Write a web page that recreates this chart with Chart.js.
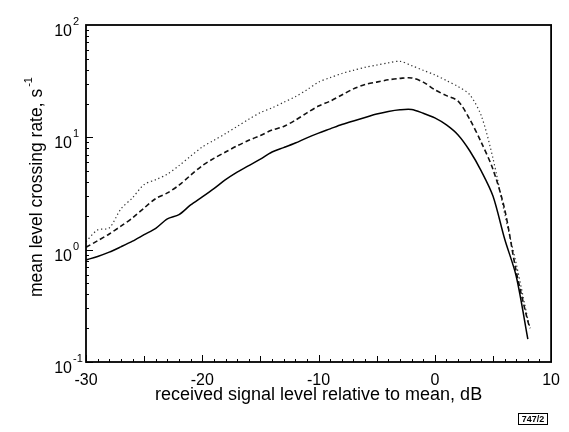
<!DOCTYPE html>
<html>
<head>
<meta charset="utf-8">
<script src="https://cdn.jsdelivr.net/npm/chart.js@4"></script>
<style>
  html, body { margin: 0; background: #fff; }
  #wrap { width: 569px; height: 432px; }
</style>
</head>
<body>
<div id="wrap"><canvas id="lcr"></canvas></div>
<script>
// received signal level relative to mean, dB
const levelDb = [-30, -29, -28, -27, -26, -25, -24, -23, -22, -21, -20, -19, -18, -17, -16, -15,
  -14, -13, -12, -11, -10, -9, -8, -7, -6, -5, -4, -3, -2, -1, 0, 1, 2, 3, 4, 5, 6, 7, 8, 8.2];

// mean level crossing rate, s^-1
const solidRate = [0.81, 0.87, 0.95, 1.06, 1.19, 1.36, 1.55, 1.88, 2.05, 2.5, 2.95, 3.5, 4.2, 4.9,
  5.6, 6.4, 7.4, 8.1, 8.9, 9.9, 10.9, 11.9, 13.0, 14.0, 15.0, 16.1, 17.0, 17.6, 17.7, 16.4, 14.9,
  12.9, 10.5, 7.6, 5.0, 3.0, 1.25, 0.58, 0.16, null];
const dashedRate = [1.05, 1.2, 1.38, 1.62, 1.92, 2.35, 2.85, 3.2, 3.75, 4.6, 5.6, 6.5, 7.4, 8.4,
  9.4, 10.4, 11.6, 12.5, 14.2, 16.5, 19.0, 21.0, 23.8, 27.0, 29.5, 31.0, 32.5, 33.5, 33.8, 31.0,
  26.5, 23.5, 21.0, 14.5, 9.0, 5.2, 2.3, 0.64, 0.23, 0.2];
const dottedRate = [1.18, 1.5, 1.56, 2.3, 2.9, 3.8, 4.2, 4.7, 5.6, 6.8, 8.2, 9.4, 10.8, 12.5,
  14.5, 16.6, 18.3, 20.5, 23.0, 26.5, 31.0, 34.0, 37.0, 39.5, 42.0, 44.0, 46.0, 47.5, 43.5, 39.5,
  36.0, 32.0, 28.3, 24.0, 15.5, 6.5, 2.1, 0.75, 0.24, 0.2];

const xTickValues = [-30, -20, -10, 0, 10];
const yExponents = [-1, 0, 1, 2];

const FONT = "'Liberation Sans', Arial, Helvetica, sans-serif";

function toPoints(ys) {
  return levelDb.map((x, i) => ({ x: x, y: ys[i] }));
}

// frame, inward ticks, power-of-ten labels, axis titles, figure tag
const framePlugin = {
  id: 'frame',
  afterDraw(chart) {
    const { ctx, chartArea: a, scales } = chart;
    const xs = scales.x, ys = scales.y;
    ctx.save();
    ctx.strokeStyle = '#000';
    ctx.fillStyle = '#000';

    ctx.lineWidth = 1.8;
    ctx.strokeRect(a.left, a.top, a.right - a.left, a.bottom - a.top);

    ctx.lineWidth = 1;
    ctx.beginPath();
    for (let v = -30; v <= 10; v++) {
      const px = Math.round(xs.getPixelForValue(v)) + 0.5;
      const len = v % 10 === 0 ? 7 : (v % 5 === 0 ? 6 : 3);
      ctx.moveTo(px, a.bottom);
      ctx.lineTo(px, a.bottom - len);
    }
    for (let e = -1; e <= 1; e++) {
      for (let m = 1; m <= 9; m++) {
        const py = Math.round(ys.getPixelForValue(m * Math.pow(10, e))) + 0.5;
        const len = m === 1 ? 7 : 3;
        ctx.moveTo(a.left, py);
        ctx.lineTo(a.left + len, py);
      }
    }
    ctx.stroke();

    // y tick labels 10^n
    ctx.textBaseline = 'alphabetic';
    yExponents.forEach(e => {
      const py = ys.getPixelForValue(Math.pow(10, e));
      ctx.font = '16px ' + FONT;
      ctx.textAlign = 'right';
      ctx.fillText('10', 72, py + 11);
      ctx.font = '11px ' + FONT;
      ctx.textAlign = 'left';
      ctx.fillText(String(e), 73, py);
    });

    // x axis title
    ctx.font = '18px ' + FONT;
    ctx.textAlign = 'center';
    ctx.fillText('received signal level relative to mean, dB', (a.left + a.right) / 2, 400);

    // y axis title with superscript
    const main = 'mean level crossing rate, s';
    const sup = '-1';
    ctx.save();
    ctx.translate(42, 187);
    ctx.rotate(-Math.PI / 2);
    ctx.font = '17.5px ' + FONT;
    const w1 = ctx.measureText(main).width;
    ctx.font = '11px ' + FONT;
    const w2 = ctx.measureText(sup).width;
    const start = -(w1 + w2 + 2) / 2;
    ctx.textAlign = 'left';
    ctx.font = '17.5px ' + FONT;
    ctx.fillText(main, start, 0);
    ctx.font = '11px ' + FONT;
    ctx.fillText(sup, start + w1 + 2, -10);
    ctx.restore();

    // figure tag
    ctx.lineWidth = 1;
    ctx.strokeRect(518.5, 413.5, 29, 11);
    ctx.font = 'bold 9px ' + FONT;
    ctx.textAlign = 'center';
    ctx.textBaseline = 'middle';
    ctx.fillText('747/2', 533, 419.5);

    ctx.restore();
  }
};

new Chart(document.getElementById('lcr'), {
  type: 'line',
  data: {
    datasets: [
      {
        label: 'solid',
        data: toPoints(solidRate),
        borderColor: '#000',
        borderWidth: 1.5,
        pointRadius: 0,
        tension: 0.3,
        fill: false,
      },
      {
        label: 'dashed',
        data: toPoints(dashedRate),
        borderColor: '#111',
        borderWidth: 1.6,
        borderDash: [5, 3],
        pointRadius: 0,
        tension: 0.3,
        fill: false,
      },
      {
        label: 'dotted',
        data: toPoints(dottedRate),
        borderColor: '#333',
        borderWidth: 1.2,
        borderDash: [1.3, 2.7],
        pointRadius: 0,
        tension: 0.3,
        fill: false,
      },
    ],
  },
  options: {
    responsive: true,
    maintainAspectRatio: false,
    animation: false,
    layout: { padding: { top: 25, right: 16, left: 0, bottom: 0 } },
    plugins: {
      legend: { display: false },
      tooltip: { enabled: false },
    },
    scales: {
      x: {
        type: 'linear',
        min: -30,
        max: 10,
        afterBuildTicks: s => { s.ticks = xTickValues.map(v => ({ value: v })); },
        ticks: {
          color: '#000',
          font: { family: FONT, size: 16 },
          padding: 9,
          maxRotation: 0,
          callback: v => String(v),
        },
        grid: { display: false, drawTicks: false },
        border: { display: false },
        afterFit: s => { s.height = 70; },
      },
      y: {
        type: 'logarithmic',
        min: 0.1,
        max: 100,
        ticks: { display: false },
        grid: { display: false, drawTicks: false },
        border: { display: false },
        afterFit: s => { s.width = 86; },
      },
    },
  },
  plugins: [framePlugin],
});
</script>
</body>
</html>
